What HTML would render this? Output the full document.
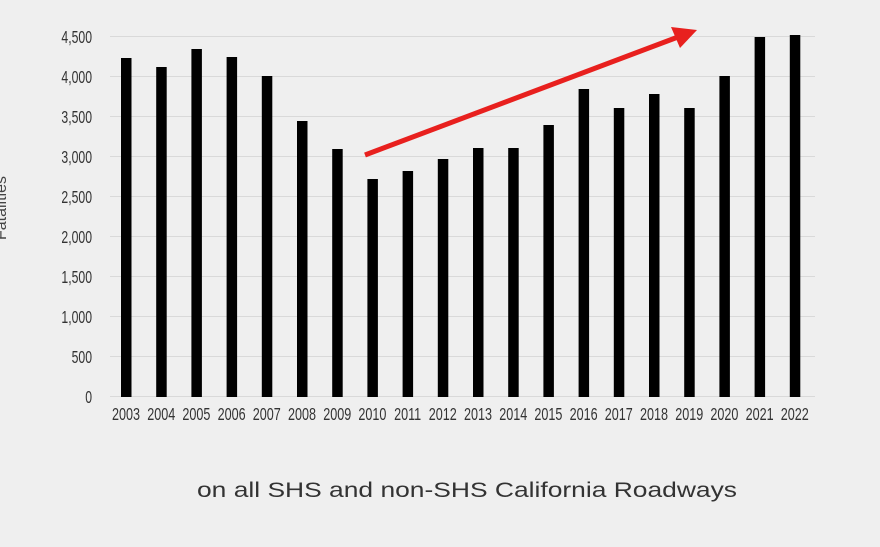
<!DOCTYPE html><html><head><style>
body{margin:0;background:#efefef;width:880px;height:542px;overflow:hidden;font-family:"Liberation Sans",sans-serif}
</style></head><body>
<svg width="880" height="542" viewBox="0 0 880 542" xmlns="http://www.w3.org/2000/svg">
<rect width="880" height="542" fill="#efefef"/>
<g stroke="#d9d9d9" stroke-width="1">
<line x1="110" x2="815" y1="36.5" y2="36.5"/><line x1="110" x2="815" y1="76.5" y2="76.5"/><line x1="110" x2="815" y1="116.5" y2="116.5"/><line x1="110" x2="815" y1="156.5" y2="156.5"/><line x1="110" x2="815" y1="196.5" y2="196.5"/><line x1="110" x2="815" y1="236.5" y2="236.5"/><line x1="110" x2="815" y1="276.5" y2="276.5"/><line x1="110" x2="815" y1="316.5" y2="316.5"/><line x1="110" x2="815" y1="356.5" y2="356.5"/><line x1="110" x2="815" y1="396.5" y2="396.5"/>
</g>
<g font-size="18" fill="#333" text-anchor="end">
<g transform="translate(92,0) scale(0.68,1)">
<text x="0" y="43">4,500</text><text x="0" y="83">4,000</text><text x="0" y="123">3,500</text><text x="0" y="163">3,000</text><text x="0" y="203">2,500</text><text x="0" y="243">2,000</text><text x="0" y="283">1,500</text><text x="0" y="323">1,000</text><text x="0" y="363">500</text><text x="0" y="403">0</text>
</g></g>
<text transform="translate(6,208) rotate(-90)" font-size="16" fill="#444" text-anchor="middle">Fatalities</text>
<g fill="#000" id="bars"></g>
<g id="labels" font-size="18" fill="#333" text-anchor="middle"></g>
<line x1="365" y1="155" x2="678" y2="37" stroke="#e8201e" stroke-width="5"/>
<polygon points="697,30 671,27 680,48" fill="#e8201e"/>
<text x="197" y="497" font-size="21" fill="#333" textLength="540" lengthAdjust="spacingAndGlyphs">on all SHS and non-SHS California Roadways</text>
<script>
var tops=[58,67,49,57,76,121,149,179,171,159,148,148,125,89,108,94,108,76,37,35];
var b=document.getElementById('bars'),l=document.getElementById('labels'),ns='http://www.w3.org/2000/svg';
for(var i=0;i<20;i++){var cx=126+i*35.2;var r=document.createElementNS(ns,'rect');r.setAttribute('x',cx-5);r.setAttribute('y',tops[i]);r.setAttribute('width',10.5);r.setAttribute('height',397-tops[i]);b.appendChild(r);
var t=document.createElementNS(ns,'text');t.setAttribute('transform','translate('+cx+',420) scale(0.7,1)');t.textContent=2003+i;l.appendChild(t);}
</script>
</svg></body></html>
